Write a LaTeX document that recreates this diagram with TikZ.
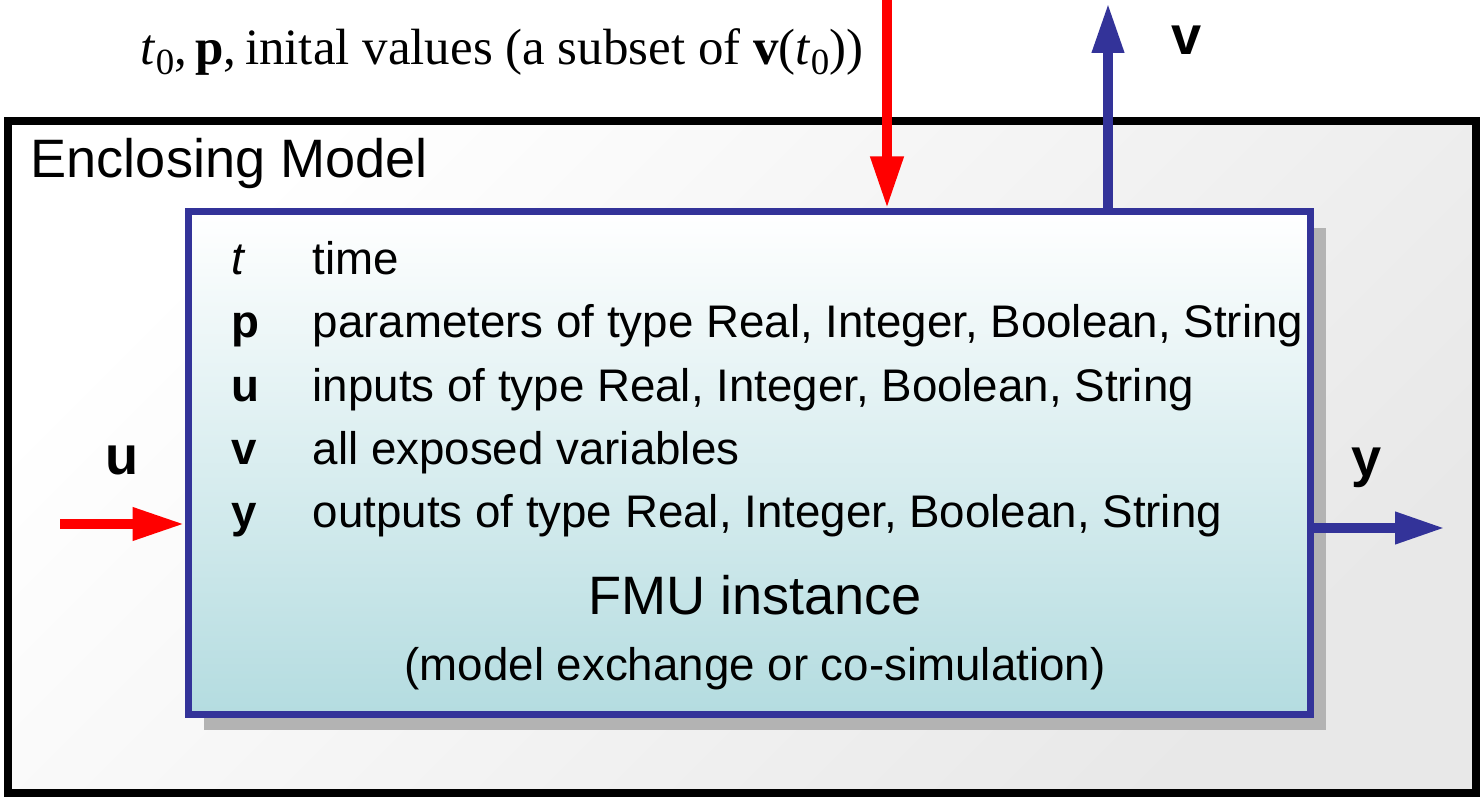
\documentclass[tikz,border=0pt]{standalone}
\usepackage{fontspec}
\setmainfont{Liberation Serif}
\setsansfont{Liberation Sans}
\usepackage{xcolor}
\usepackage{tikz}
\usetikzlibrary{arrows.meta,positioning,shadows,calc}
\definecolor{fmuBlue}{HTML}{333399}
\definecolor{fmuRed}{HTML}{FF0000}
\definecolor{fmuTeal}{HTML}{B4DCE0}
\definecolor{fmuShadow}{HTML}{B3B3B3}
\definecolor{enclGray}{HTML}{E8E8E8}
\newcommand{\subzero}{\raisebox{-0.4ex}{\fontsize{10.5}{11}\selectfont 0}}

\begin{document}
\begin{tikzpicture}[
  encl/.style={draw=black,line width=0.08cm,top color=white,bottom color=enclGray,shading angle=45,minimum width=14.68cm,minimum height=6.72cm,inner sep=0pt},
  fmu/.style={draw=fmuBlue,line width=0.07cm,top color=white,bottom color=fmuTeal,minimum width=11.22cm,minimum height=5.02cm,inner sep=0pt,
    drop shadow={shadow xshift=0.16cm,shadow yshift=-0.16cm,fill=fmuShadow,opacity=1}},
  sym/.style={anchor=base west,inner sep=0pt,font=\sffamily\fontsize{13}{14}\selectfont\bfseries},
  desc/.style={anchor=base west,inner sep=0pt,font=\sffamily\fontsize{13}{14}\selectfont},
  lbl/.style={inner sep=0pt,font=\sffamily\fontsize{15.4}{17}\selectfont\bfseries},
  inarr/.style={draw=fmuRed,line width=0.1cm,-{Triangle[length=0.52cm,width=0.31cm]}},
  outarr/.style={draw=fmuBlue,line width=0.1cm,-{Triangle[length=0.5cm,width=0.3cm]}}]
  \useasboundingbox (0,0) rectangle (14.84,-8);
  % enclosing model
  \node[encl] (model) at (7.42,-4.57) {};
  \node[anchor=base west,inner sep=0pt,font=\sffamily\fontsize{15.4}{17}\selectfont] (mtitle) at (0.30,-1.78) {Enclosing Model};
  % fmu instance
  \node[fmu] (fmu) at (7.49,-4.63) {};
  \foreach \s/\d [count=\i from 0] in {{\mdseries\itshape t}/time,
      p/{parameters of type Real, Integer, Boolean, String},
      u/{inputs of type Real, Integer, Boolean, String},
      v/{all exposed variables},
      y/{outputs of type Real, Integer, Boolean, String}}{
    \node[sym] (s\i) at (2.31,-2.75-0.63*\i) {\s};
    \node[desc] (d\i) at (3.12,-2.75-0.63*\i) {\d};
  }
  \node[anchor=base,inner sep=0pt,font=\sffamily\fontsize{15.4}{17}\selectfont] (fname) at (7.55,-6.14) {FMU instance};
  \node[anchor=base,inner sep=0pt,font=\sffamily\fontsize{13}{15}\selectfont] (fkind) at (7.55,-6.80) {(model exchange or co-simulation)};
  % start values from above
  \node[anchor=base west,inner sep=0pt,font=\fontsize{14.5}{16}\selectfont] (start) at (1.40,-0.65)
    {\textit{t}\subzero,\,\textbf{p},\,inital values (a subset of \textbf{v}(\textit{t}\subzero))};
  \coordinate (pin) at (8.87,0);
  \draw[inarr] (pin) -- (pin |- fmu.north);
  % exposed variables
  \coordinate (vout) at (11.08,-0.03);
  \draw[outarr] (vout |- fmu.north) -- (vout);
  \node[lbl] (vlab) at (11.87,-0.40) {v};
  % inputs and outputs
  \coordinate (uin) at (0.60,-5.24);
  \draw[inarr] (uin) -- (uin -| fmu.west);
  \node[lbl] (ulab) at (1.22,-4.60) {u};
  \coordinate (yout) at (14.45,-5.28);
  \draw[outarr] (yout -| fmu.east) -- (yout);
  \node[lbl] (ylab) at (13.67,-4.68) {y};
\end{tikzpicture}
\end{document}
